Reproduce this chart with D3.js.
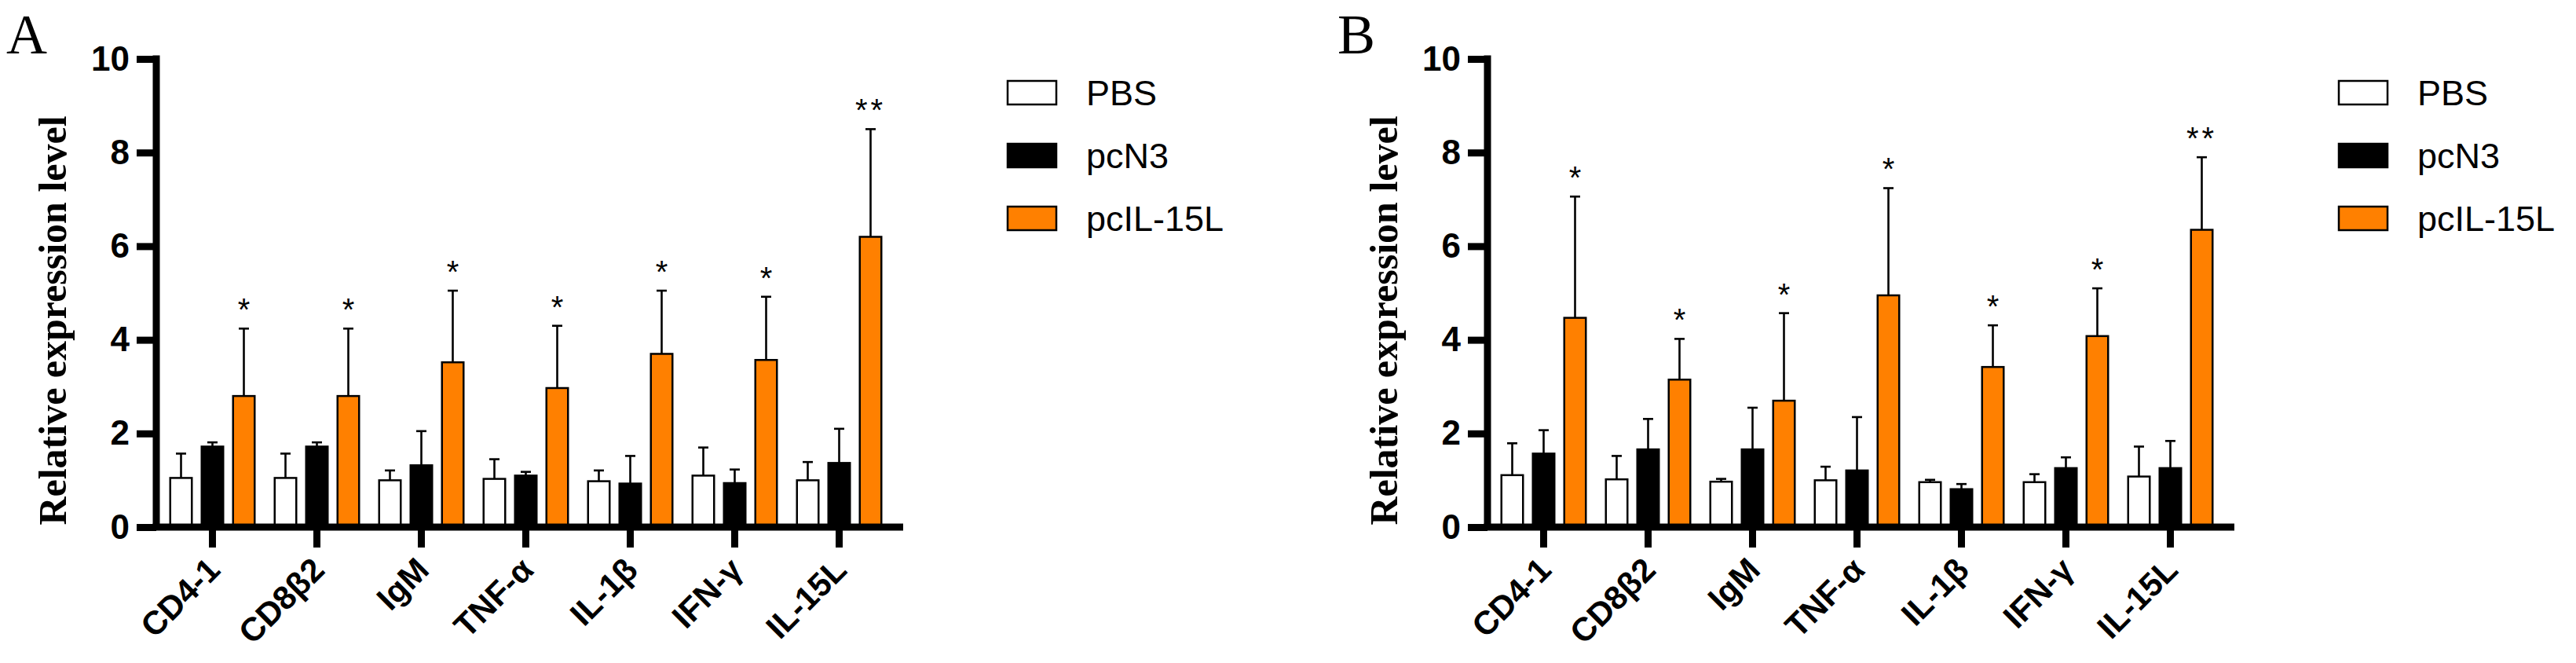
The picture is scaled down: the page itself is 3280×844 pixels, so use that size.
<!DOCTYPE html>
<html>
<head>
<meta charset="utf-8">
<script src="https://cdn.jsdelivr.net/npm/d3@7/dist/d3.min.js"></script>
<style>
  html, body { margin: 0; padding: 0; background: #ffffff; }
  svg { display: block; }
</style>
</head>
<body>
<svg id="chart" width="3280" height="844"></svg>
<script>
// ---------------- data ----------------
const categories = ["CD4-1", "CD8β2", "IgM", "TNF-α", "IL-1β", "IFN-γ", "IL-15L"];
const groups = ["PBS", "pcN3", "pcIL-15L"];
const yTicks = [0, 2, 4, 6, 8, 10];
const panelLetters = ["A", "B"];
const yTitle = "Relative expression level";

// Panel A (means and upper SD)
const aPBS     = [1.05, 1.05, 1.00, 1.03, 0.98, 1.10, 1.00];
const aPBSsd   = [0.52, 0.52, 0.21, 0.42, 0.23, 0.60, 0.39];
const aN3      = [1.72, 1.72, 1.32, 1.10, 0.93, 0.94, 1.37];
const aN3sd    = [0.09, 0.09, 0.73, 0.08, 0.59, 0.29, 0.73];
const aIL      = [2.80, 2.80, 3.52, 2.97, 3.70, 3.57, 6.20];
const aILsd    = [1.44, 1.44, 1.53, 1.33, 1.35, 1.35, 2.30];
const aStars   = ["*", "*", "*", "*", "*", "*", "**"];

// Panel B
const bPBS     = [1.11, 1.02, 0.97, 1.00, 0.96, 0.96, 1.08];
const bPBSsd   = [0.68, 0.50, 0.06, 0.29, 0.05, 0.17, 0.64];
const bN3      = [1.57, 1.66, 1.66, 1.21, 0.81, 1.26, 1.26];
const bN3sd    = [0.50, 0.65, 0.89, 1.14, 0.11, 0.23, 0.58];
const bIL      = [4.47, 3.15, 2.70, 4.95, 3.42, 4.08, 6.35];
const bILsd    = [2.59, 0.87, 1.87, 2.29, 0.89, 1.02, 1.55];
const bStars   = ["*", "*", "*", "*", "*", "*", "**"];

// ---------------- style ----------------
const fills = { "PBS": "#ffffff", "pcN3": "#000000", "pcIL-15L": "#ff8000" };
const SANS = "'Liberation Sans', Arial, Helvetica, sans-serif";
const SERIF = "'Liberation Serif', 'Times New Roman', serif";

const svg = d3.select("#chart");

const panels = [
  { offset: 0,    means: [aPBS, aN3, aIL], sds: [aPBSsd, aN3sd, aILsd], stars: aStars, letter: panelLetters[0] },
  { offset: 1695, means: [bPBS, bN3, bIL], sds: [bPBSsd, bN3sd, bILsd], stars: bStars, letter: panelLetters[1] }
];

const axisX = 199;
const y = d3.scaleLinear().domain([0, 10]).range([671, 75]);
const x0 = d3.scaleBand().domain(categories).range([204, 204 + 7 * 133]).paddingInner(0).paddingOuter(0);
const x1 = d3.scaleBand().domain(groups).range([-55, 55]).paddingInner(0.25).paddingOuter(0);

panels.forEach(p => {
  const g = svg.append("g").attr("transform", `translate(${p.offset},0)`);

  // panel letter
  g.append("text")
    .attr("x", 8).attr("y", 68)
    .attr("font-family", SERIF).attr("font-size", 72)
    .attr("fill", "#000")
    .text(p.letter);

  // y title
  g.append("text")
    .attr("transform", `translate(84, 408) rotate(-90)`)
    .attr("text-anchor", "middle")
    .attr("font-family", SERIF).attr("font-weight", "bold").attr("font-size", 50)
    .attr("fill", "#000")
    .text(yTitle);

  // records
  const recs = [];
  categories.forEach((c, i) => {
    groups.forEach((s, j) => {
      recs.push({ cat: c, grp: s, mean: p.means[j][i], sd: p.sds[j][i], star: j === 2 ? p.stars[i] : null });
    });
  });

  const cx = d => x0(d.cat) + x0.bandwidth() / 2 + x1(d.grp) + x1.bandwidth() / 2;

  // error bars (upper)
  g.selectAll(".err").data(recs).enter().append("line")
    .attr("x1", cx).attr("x2", cx)
    .attr("y1", d => y(d.mean)).attr("y2", d => y(d.mean + d.sd))
    .attr("stroke", "#000").attr("stroke-width", 2.6);
  g.selectAll(".cap").data(recs).enter().append("line")
    .attr("x1", d => cx(d) - 6.5).attr("x2", d => cx(d) + 6.5)
    .attr("y1", d => y(d.mean + d.sd)).attr("y2", d => y(d.mean + d.sd))
    .attr("stroke", "#000").attr("stroke-width", 2.6);

  // bars
  g.selectAll(".bar").data(recs).enter().append("rect")
    .attr("x", d => cx(d) - x1.bandwidth() / 2 + 1.25)
    .attr("width", x1.bandwidth() - 2.5)
    .attr("y", d => y(d.mean))
    .attr("height", d => y(0) - y(d.mean))
    .attr("fill", d => fills[d.grp])
    .attr("stroke", "#000").attr("stroke-width", 2.5);

  // stars
  g.selectAll(".star").data(recs.filter(d => d.star)).enter().append("text")
    .attr("x", cx)
    .attr("y", d => y(d.mean + d.sd) - 10)
    .attr("text-anchor", "middle")
    .attr("font-family", SANS).attr("font-size", 40)
    .attr("letter-spacing", d => d.star.length > 1 ? 4 : 0)
    .attr("fill", "#000")
    .text(d => d.star);

  // y axis
  const yAxis = d3.axisLeft(y).tickValues(yTicks).tickSize(25).tickPadding(9).tickFormat(d3.format("d"));
  const ya = g.append("g").attr("transform", `translate(${axisX},0)`).call(yAxis);
  ya.select(".domain").remove();
  ya.selectAll(".tick line").attr("stroke", "#000").attr("stroke-width", 9);
  ya.selectAll(".tick text")
    .attr("font-family", SANS).attr("font-weight", "bold").attr("font-size", 44)
    .attr("fill", "#000");
  g.append("line")
    .attr("x1", axisX).attr("x2", axisX)
    .attr("y1", y(10) - 4.5).attr("y2", y(0))
    .attr("stroke", "#000").attr("stroke-width", 9);

  // x axis
  const xAxis = d3.axisBottom(x0).tickSize(26).tickPadding(0);
  const xa = g.append("g").attr("transform", `translate(0,${y(0)})`).call(xAxis);
  xa.select(".domain").remove();
  xa.selectAll(".tick line").attr("stroke", "#000").attr("stroke-width", 9);
  xa.selectAll(".tick text")
    .attr("font-family", SANS).attr("font-weight", "bold").attr("font-size", 42)
    .attr("fill", "#000")
    .attr("text-anchor", "end")
    .attr("dy", 0)
    .attr("transform", "translate(12,57) rotate(-45)")
    .attr("y", 0).attr("x", 0);
  g.append("line")
    .attr("x1", axisX - 4.5).attr("x2", 1150)
    .attr("y1", y(0)).attr("y2", y(0))
    .attr("stroke", "#000").attr("stroke-width", 9);

  // legend
  const lg = g.append("g");
  groups.forEach((s, j) => {
    const base = 134 + j * 80;
    lg.append("rect")
      .attr("x", 1283).attr("y", base - 31)
      .attr("width", 62).attr("height", 30)
      .attr("fill", fills[s]).attr("stroke", "#000").attr("stroke-width", 2.5);
    lg.append("text")
      .attr("x", 1383).attr("y", base)
      .attr("font-family", SANS).attr("font-size", 45)
      .attr("fill", "#000")
      .text(s);
  });
});
</script>
</body>
</html>
